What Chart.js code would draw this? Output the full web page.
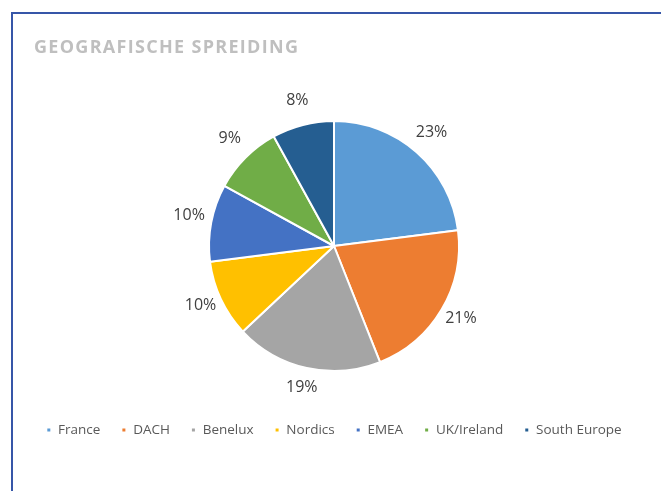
<!DOCTYPE html>
<html>
<head>
<meta charset="utf-8">
<script src="https://cdn.jsdelivr.net/npm/chart.js@4"></script>
<style>
  html, body { margin: 0; padding: 0; background: #fff; }
  #wrap { position: relative; width: 661px; height: 491px; overflow: hidden; }
  #wrap canvas { position: absolute; left: 0; top: 0; }
  .frame {
    position: absolute; left: 11px; top: 12px; width: 700px; height: 600px;
    border-left: 2px solid #3656a8; border-top: 2px solid #3656a8;
    pointer-events: none;
  }
  .title {
    position: absolute; left: 34px; top: 35px;
    font-family: "Open Sans", sans-serif; font-weight: bold; font-size: 18px;
    letter-spacing: 1.3px; line-height: 22px; color: #bfbfbf; white-space: nowrap;
  }
</style>
</head>
<body>
<div id="wrap">
  <canvas id="geoChart" width="661" height="491"></canvas>
  <div class="frame"></div>
  <div class="title">GEOGRAFISCHE SPREIDING</div>
</div>
<script>
// Regio's en aandeel (%)
const regions = ['France', 'DACH', 'Benelux', 'Nordics', 'EMEA', 'UK/Ireland', 'South Europe'];
const shares = [23, 21, 19, 10, 10, 9, 8];
const sliceColors = ['#5b9bd5', '#ed7d31', '#a5a5a5', '#ffc000', '#4472c4', '#70ad47', '#255e91'];

// labels buiten de taart
const outsideLabels = {
    id: 'outsideLabels',
    afterDatasetsDraw(chart) {
        const ctx = chart.ctx;
        const meta = chart.getDatasetMeta(0);
        ctx.save();
        ctx.font = '16px "Open Sans", sans-serif';
        ctx.fillStyle = '#404040';
        ctx.textAlign = 'center';
        ctx.textBaseline = 'middle';
        meta.data.forEach((arc, i) => {
            const p = arc.getProps(['x', 'y', 'startAngle', 'endAngle', 'outerRadius'], true);
            const mid = (p.startAngle + p.endAngle) / 2;
            const r = p.outerRadius + 22.5;
            ctx.fillText(shares[i] + '%', p.x + Math.cos(mid) * r, p.y + Math.sin(mid) * r - 3);
        });
        ctx.restore();
    }
};

new Chart(document.getElementById('geoChart'), {
    type: 'pie',
    data: {
        labels: regions,
        datasets: [{
            data: shares,
            backgroundColor: sliceColors,
            borderColor: '#ffffff',
            borderWidth: 2,
            radius: 125
        }]
    },
    options: {
        responsive: false,
        animation: false,
        layout: { padding: { top: 89.75, left: 7, right: 0, bottom: 44.25 } },
        plugins: {
            legend: {
                position: 'bottom',
                labels: {
                    boxWidth: 5,
                    boxHeight: 5,
                    padding: 21,
                    color: '#595959',
                    font: { family: '"Open Sans", sans-serif', size: 13.5 }
                }
            },
            tooltip: { enabled: false }
        }
    },
    plugins: [outsideLabels]
});
</script>
</body>
</html>
